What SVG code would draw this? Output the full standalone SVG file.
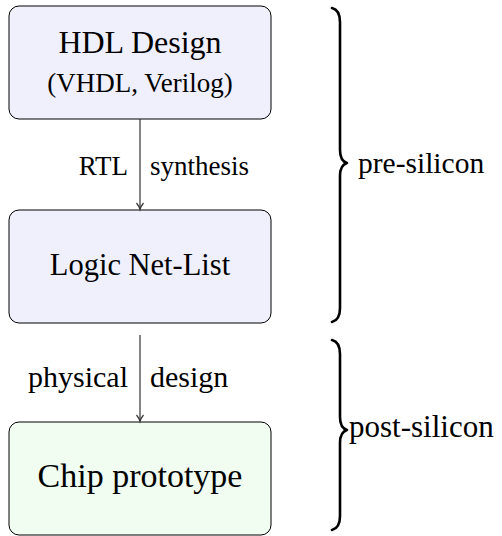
<svg xmlns="http://www.w3.org/2000/svg" width="502" height="536" viewBox="0 0 502 536">
<style>
.box{stroke:#000;stroke-width:1}
.blue{fill:#f0f0fd}
.green{fill:#f0fdf0}
.edge{stroke:#333;stroke-width:1.2;fill:none}
.brace{stroke:#000;stroke-width:2.6;fill:none;stroke-linecap:round;stroke-linejoin:round}
</style>
<defs>
<marker id="arr" markerWidth="10" markerHeight="10" refX="7" refY="5" orient="auto" markerUnits="userSpaceOnUse">
<path d="M1,1.5 Q4,4 7.5,5 Q4,6 1,8.5" fill="none" stroke="#333" stroke-width="1.2"/>
</marker>
</defs>
<g id="hdl">
<rect class="box blue" x="9" y="6" width="262" height="113" rx="10"/>
<text x="140" y="53" style="font-family:'Liberation Serif',serif !important" font-size="32" text-anchor="middle">HDL Design</text>
<text x="140" y="92" style="font-family:'Liberation Serif',serif !important" font-size="27" text-anchor="middle">(VHDL, Verilog)</text>
</g>
<g id="netlist">
<rect class="box blue" x="9" y="210" width="262" height="113" rx="10"/>
<text x="140" y="275" style="font-family:'Liberation Serif',serif !important" font-size="30.5" text-anchor="middle">Logic Net-List</text>
</g>
<g id="chip">
<rect class="box green" x="9" y="422" width="262" height="113" rx="10"/>
<text x="140" y="487" style="font-family:'Liberation Serif',serif !important" font-size="34" text-anchor="middle">Chip prototype</text>
</g>
<g id="connectors">
<line class="edge" x1="140" y1="119" x2="140" y2="209" marker-end="url(#arr)"/>
<text x="128" y="175" style="font-family:'Liberation Serif',serif !important" font-size="27" text-anchor="end">RTL</text>
<text x="150" y="175" style="font-family:'Liberation Serif',serif !important" font-size="27">synthesis</text>
<line class="edge" x1="140" y1="335" x2="140" y2="421" marker-end="url(#arr)"/>
<text x="128" y="387" style="font-family:'Liberation Serif',serif !important" font-size="30" text-anchor="end">physical</text>
<text x="150" y="387" style="font-family:'Liberation Serif',serif !important" font-size="30">design</text>
</g>
<g id="pre-silicon">
<path class="brace" d="M332,8 Q340,10 340,22 L340,150 Q340,161 347,163 Q340,165 340,176 L340,308 Q340,320 332,322"/>
<text x="358" y="173" style="font-family:'Liberation Serif',serif !important" font-size="29.5">pre-silicon</text>
</g>
<g id="post-silicon">
<path class="brace" d="M332,340 Q340,342 340,354 L340,417 Q340,428 347,430 Q340,432 340,443 L340,516 Q340,528 332,530"/>
<text x="349" y="437" style="font-family:'Liberation Serif',serif !important" font-size="31">post-silicon</text>
</g>
</svg>
